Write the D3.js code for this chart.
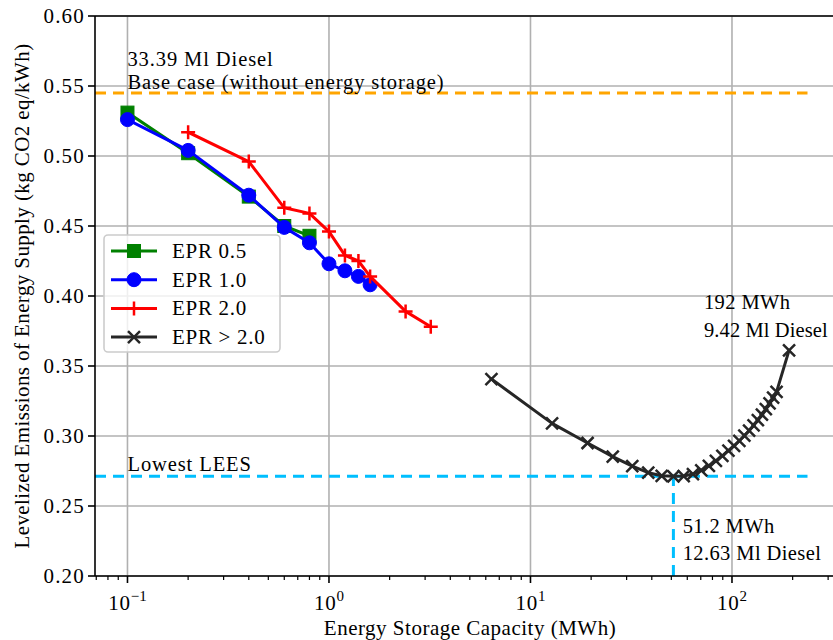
<!DOCTYPE html>
<html>
<head>
<meta charset="utf-8">
<script src="https://cdn.jsdelivr.net/npm/d3@7"></script>
<style>
  html, body { margin: 0; padding: 0; background: #fff; }
  svg { display: block; }
  text { font-family: "Liberation Serif", "Times New Roman", serif; fill: #000; }
</style>
</head>
<body>
<svg id="chart" width="833" height="640"></svg>
<script>
// ---------------- data ----------------
const epr05X = [0.1, 0.2, 0.4, 0.6, 0.8];
const epr05Y = [0.531, 0.502, 0.471, 0.450, 0.443];

const epr10X = [0.1, 0.2, 0.4, 0.6, 0.8, 1.0, 1.2, 1.4, 1.6];
const epr10Y = [0.526, 0.504, 0.472, 0.449, 0.438, 0.423, 0.418, 0.414, 0.408];

const epr20X = [0.2, 0.4, 0.6, 0.8, 1.0, 1.2, 1.4, 1.6, 2.4, 3.2];
const epr20Y = [0.517, 0.496, 0.463, 0.459, 0.446, 0.429, 0.425, 0.414, 0.389, 0.378];

const eprHiX = [6.4, 12.8, 19.2, 25.6, 32, 38.4, 44.8, 51.2, 57.6, 64, 70.4, 76.8, 83.2, 89.6,
                96, 102.4, 108.8, 115.2, 121.6, 128, 134.4, 140.8, 147.2, 153.6, 160, 166.4, 192];
const eprHiY = [0.3407, 0.309, 0.2950, 0.2853, 0.2785, 0.2738, 0.2716, 0.2712, 0.2714, 0.2728,
                0.2755, 0.2787, 0.2822, 0.2858, 0.2895, 0.2930, 0.2966, 0.3002, 0.3038, 0.3076,
                0.3114, 0.3152, 0.3192, 0.3233, 0.3274, 0.3315, 0.3612];

const seriesNames = ["EPR 0.5", "EPR 1.0", "EPR 2.0", "EPR > 2.0"];
const seriesColors = ["#008000", "#0000ff", "#ff0000", "#262626"];
const seriesMarkers = ["square", "circle", "plus", "cross"];

const baseCaseY = 0.545;
const lowestY = 0.2712;
const lowestX = 51.2;

const yTicks = [0.20, 0.25, 0.30, 0.35, 0.40, 0.45, 0.50, 0.55, 0.60];
const xMajorTicks = [0.1, 1, 10, 100];
const xTickExp = ["\u22121", "0", "1", "2"];

const baseText = ["33.39 Ml Diesel", "Base case (without energy storage)"];
const lowText = "Lowest LEES";
const minText = ["51.2 MWh", "12.63 Ml Diesel"];
const maxText = ["192 MWh", "9.42 Ml Diesel"];
const xLabel = "Energy Storage Capacity (MWh)";
const yLabel = "Levelized Emissions of Energy Supply (kg CO2 eq/kWh)";

// ---------------- layout ----------------
const L = 95, R = 845, T = 16, B = 576;
const FS = 21;
const LS = "0.7px";
const svg = d3.select("#chart");

const x = d3.scaleLog().domain([0.069, 363.8]).range([L, R]);
const y = d3.scaleLinear().domain([0.2, 0.6]).range([B, T]);

svg.append("defs").append("clipPath").attr("id", "clip")
  .append("rect").attr("x", L).attr("y", T).attr("width", R - L).attr("height", B - T);

const xAllTicks = x.ticks();

// grid
const grid = svg.append("g");
grid.selectAll("line.gx").data(xMajorTicks).join("line")
  .attr("x1", d => x(d)).attr("x2", d => x(d)).attr("y1", T).attr("y2", B)
  .attr("stroke", "#b0b0b0").attr("stroke-width", 1.6);
grid.selectAll("line.gy").data(yTicks).join("line")
  .attr("x1", L).attr("x2", R).attr("y1", d => y(d)).attr("y2", d => y(d))
  .attr("stroke", "#b0b0b0").attr("stroke-width", 1.6);

const plot = svg.append("g").attr("clip-path", "url(#clip)");

// reference lines (axhline spanning 0..0.95 of axes width)
const hEnd = L + 0.95 * (R - L);
plot.append("line").attr("x1", L).attr("x2", hEnd).attr("y1", y(baseCaseY)).attr("y2", y(baseCaseY))
  .attr("stroke", "#ffa500").attr("stroke-width", 3).attr("stroke-dasharray", "11,7");
plot.append("line").attr("x1", L).attr("x2", hEnd).attr("y1", y(lowestY)).attr("y2", y(lowestY))
  .attr("stroke", "#00bfff").attr("stroke-width", 3).attr("stroke-dasharray", "11,7");
plot.append("line").attr("x1", x(lowestX)).attr("x2", x(lowestX)).attr("y1", B).attr("y2", y(lowestY))
  .attr("stroke", "#00bfff").attr("stroke-width", 3).attr("stroke-dasharray", "11,7");

// series
const seriesData = [
  d3.zip(epr05X, epr05Y),
  d3.zip(epr10X, epr10Y),
  d3.zip(epr20X, epr20Y),
  d3.zip(eprHiX, eprHiY)
];
const line = d3.line().x(d => x(d[0])).y(d => y(d[1]));

function drawMarker(g, type, cx, cy, color) {
  if (type === "square") {
    g.append("rect").attr("x", cx - 6.5).attr("y", cy - 6.5).attr("width", 13).attr("height", 13)
      .attr("fill", color).attr("stroke", color).attr("stroke-width", 1);
  } else if (type === "circle") {
    g.append("circle").attr("cx", cx).attr("cy", cy).attr("r", 7)
      .attr("fill", color).attr("stroke", color).attr("stroke-width", 1);
  } else if (type === "plus") {
    g.append("path").attr("d", `M${cx - 7},${cy}H${cx + 7}M${cx},${cy - 7}V${cy + 7}`)
      .attr("stroke", color).attr("stroke-width", 2.5).attr("fill", "none");
  } else if (type === "cross") {
    g.append("path").attr("d", `M${cx - 6},${cy - 6}L${cx + 6},${cy + 6}M${cx - 6},${cy + 6}L${cx + 6},${cy - 6}`)
      .attr("stroke", color).attr("stroke-width", 2.5).attr("fill", "none");
  }
}

seriesData.forEach((data, i) => {
  const g = plot.append("g");
  g.append("path").datum(data).attr("d", line)
    .attr("fill", "none").attr("stroke", seriesColors[i]).attr("stroke-width", 3)
    .attr("stroke-linejoin", "round").attr("stroke-linecap", "square");
  data.forEach(d => drawMarker(g, seriesMarkers[i], x(d[0]), y(d[1]), seriesColors[i]));
});

// annotations
const ann = svg.append("g").style("font-size", "20.5px").style("letter-spacing", "0.9px");
ann.append("text").attr("x", x(0.1)).attr("y", y(0.5643)).text(baseText[0]);
ann.append("text").attr("x", x(0.1)).attr("y", y(0.5478)).text(baseText[1]);
ann.append("text").attr("x", x(0.1)).attr("y", y(0.2750)).text(lowText);
const annR = svg.append("g").style("font-size", "20.5px").style("letter-spacing", "0.4px");
annR.append("text").attr("x", x(56.9)).attr("y", y(0.2307)).text(minText[0]);
annR.append("text").attr("x", x(56.9)).attr("y", y(0.2111)).text(minText[1]);
annR.append("text").attr("x", x(72.6)).attr("y", y(0.3904)).text(maxText[0]);
annR.append("text").attr("x", x(72.6)).attr("y", y(0.3704)).style("letter-spacing", "0.1px").text(maxText[1]);

// axes spines
svg.append("line").attr("x1", L).attr("x2", L).attr("y1", T).attr("y2", B).attr("stroke", "#000").attr("stroke-width", 1.6);
svg.append("line").attr("x1", L).attr("x2", R).attr("y1", B).attr("y2", B).attr("stroke", "#000").attr("stroke-width", 1.6);
svg.append("line").attr("x1", L).attr("x2", R).attr("y1", T).attr("y2", T).attr("stroke", "#000").attr("stroke-width", 1.6);
svg.append("line").attr("x1", R).attr("x2", R).attr("y1", T).attr("y2", B).attr("stroke", "#000").attr("stroke-width", 1.6);

// y axis ticks and labels
const yAx = svg.append("g");
yAx.selectAll("line").data(yTicks).join("line")
  .attr("x1", L - 7).attr("x2", L).attr("y1", d => y(d)).attr("y2", d => y(d))
  .attr("stroke", "#000").attr("stroke-width", 1.6);
yAx.selectAll("text").data(yTicks).join("text")
  .attr("x", L - 10).attr("y", d => y(d) + 7).attr("text-anchor", "end")
  .style("font-size", FS + "px").style("letter-spacing", "1.2px").text(d => d3.format(".2f")(d));

// x axis ticks
const xAx = svg.append("g");
const minorTicks = xAllTicks.filter(t => !xMajorTicks.some(m => Math.abs(m - t) / m < 1e-9) && t > x.domain()[0]);
xAx.selectAll("line.minor").data(minorTicks).join("line").attr("class", "minor")
  .attr("x1", d => x(d)).attr("x2", d => x(d)).attr("y1", B).attr("y2", B + 4)
  .attr("stroke", "#000").attr("stroke-width", 1.2);
xAx.selectAll("line.major").data(xMajorTicks).join("line").attr("class", "major")
  .attr("x1", d => x(d)).attr("x2", d => x(d)).attr("y1", B).attr("y2", B + 7)
  .attr("stroke", "#000").attr("stroke-width", 1.6);
const xl = xAx.selectAll("text").data(xMajorTicks).join("text")
  .attr("x", d => x(d)).attr("y", 610).attr("text-anchor", "middle")
  .style("font-size", FS + "px");
xl.append("tspan").style("letter-spacing", "0.8px").text("10");
xl.append("tspan").attr("dy", -9).style("font-size", "15px").text((d, i) => xTickExp[i]);

// axis labels
svg.append("text").attr("x", (L + R) / 2).attr("y", 635).attr("text-anchor", "middle")
  .style("font-size", FS + "px").style("letter-spacing", "0.5px").text(xLabel);
svg.append("text").attr("transform", `translate(29,${(T + B) / 2}) rotate(-90)`)
  .attr("text-anchor", "middle").style("font-size", FS + "px").style("letter-spacing", "0.4px").text(yLabel);

// legend
const leg = svg.append("g");
const lx = 104, ly = 235, rowH = 28.7;
leg.append("rect").attr("x", lx).attr("y", ly).attr("width", 176).attr("height", 117)
  .attr("rx", 4).attr("fill", "#fff").attr("fill-opacity", 0.8)
  .attr("stroke", "#cccccc").attr("stroke-width", 1.6);
seriesNames.forEach((name, i) => {
  const cy = ly + 16 + i * rowH;
  leg.append("line").attr("x1", lx + 7).attr("x2", lx + 53).attr("y1", cy).attr("y2", cy)
    .attr("stroke", seriesColors[i]).attr("stroke-width", 3);
  drawMarker(leg, seriesMarkers[i], lx + 30, cy, seriesColors[i]);
  leg.append("text").attr("x", lx + 68).attr("y", cy + 7).style("font-size", FS + "px")
    .style("letter-spacing", LS).text(name);
});
</script>
</body>
</html>
